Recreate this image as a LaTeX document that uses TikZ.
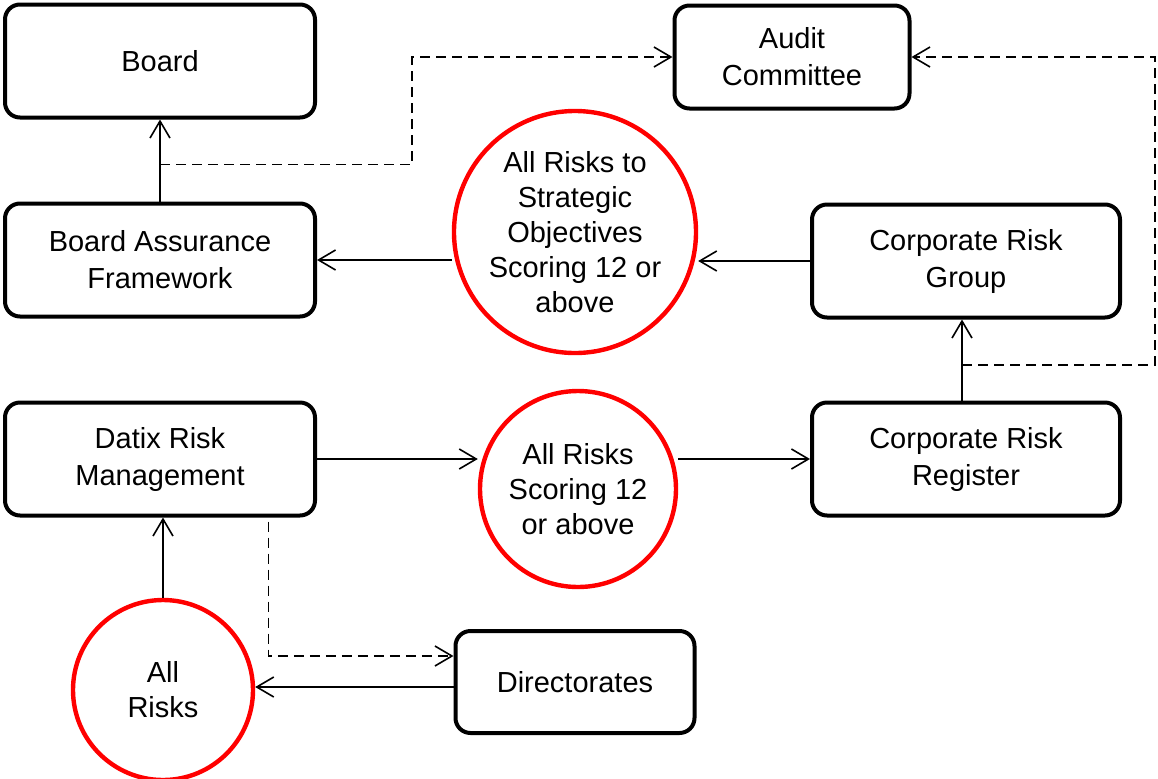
\documentclass[tikz,border=0pt]{standalone}
\usepackage{fontspec}
\setmainfont{Liberation Sans}
\usetikzlibrary{arrows.meta,calc}

\begin{document}
\begin{tikzpicture}[x=0.5pt,y=-0.5pt,
  box/.style={draw, line width=2pt, rounded corners=7.5pt, align=center,
    minimum width=155pt, minimum height=56.5pt, inner sep=0pt,
    font=\fontsize{14.5}{18.5}\selectfont},
  riskcircle/.style={draw=red, line width=2.2pt, circle, align=center, inner sep=0pt},
  line/.style={line width=0.8pt, -{Straight Barb[length=8.5pt,width=10pt]}},
  dline/.style={line width=0.8pt, dash pattern=on 5pt off 3pt,
    -{Straight Barb[length=8.5pt,width=10pt]}},
  font=\fontsize{14.5}{17.5}\selectfont]

\useasboundingbox (0,0) rectangle (1158,778);

\node[box] (board) at (160,61) {Board};
\node[box, minimum width=117.5pt, minimum height=51.5pt] (audit) at (792,57) {Audit\\Committee};
\node[box] (baf) at (160,260) {Board Assurance\\Framework};
\node[box, minimum width=154pt] (crg) at (966,261) {Corporate Risk\\Group};
\node[box] (datix) at (160,459) {Datix Risk\\Management};
\node[box, minimum width=154pt] (crr) at (966,459) {Corporate Risk\\Register};
\node[box, minimum width=119.5pt, minimum height=51pt] (dirs) at (575,682) {Directorates};

\node[riskcircle, minimum size=121pt] (strat) at (575,232)
  {All Risks to\\Strategic\\Objectives\\Scoring 12 or\\above};
\node[riskcircle, minimum size=98pt] (scoring) at (578,489) {All Risks\\Scoring 12\\or above};
\node[riskcircle, minimum size=90pt] (allrisks) at (163,690) {All\\Risks};

% solid flow
\draw[line] (baf.north) -- (board.south);
\draw[line] (strat.west |- baf.east) -- (baf.east);
\draw[line] (crg.west) -- (crg.west -| strat.east);
\draw[line] (datix.east) -- (datix.east -| scoring.west);
\draw[line] (scoring.east |- crr.west) -- (crr.west);
\draw[line] ([xshift=-2pt]crr.north) -- ([xshift=-2pt]crg.south);
\draw[line] (allrisks.north) -- (allrisks.north |- datix.south);
\draw[line] ([yshift=-2.5pt]dirs.west) -- ([yshift=1.5pt]allrisks.east);

% reporting to audit committee
\coordinate (jl) at ($(baf.north)!0.45!(board.south)$);
\coordinate (bendl) at (412,110);
\draw[dline] (jl) -| (bendl) |- (audit.west);
\coordinate (jr) at ($([xshift=-2pt]crr.north)!0.44!([xshift=-2pt]crg.south)$);
\coordinate (bendr) at (1155,200);
\draw[dline] (jr) -| (bendr) |- (audit.east);

\coordinate (dx) at ($(datix.south west)!0.845!(datix.south east)$);
\draw[dline] ([yshift=-2pt]dx) |- ([yshift=13pt]dirs.west);

\end{tikzpicture}
\end{document}
